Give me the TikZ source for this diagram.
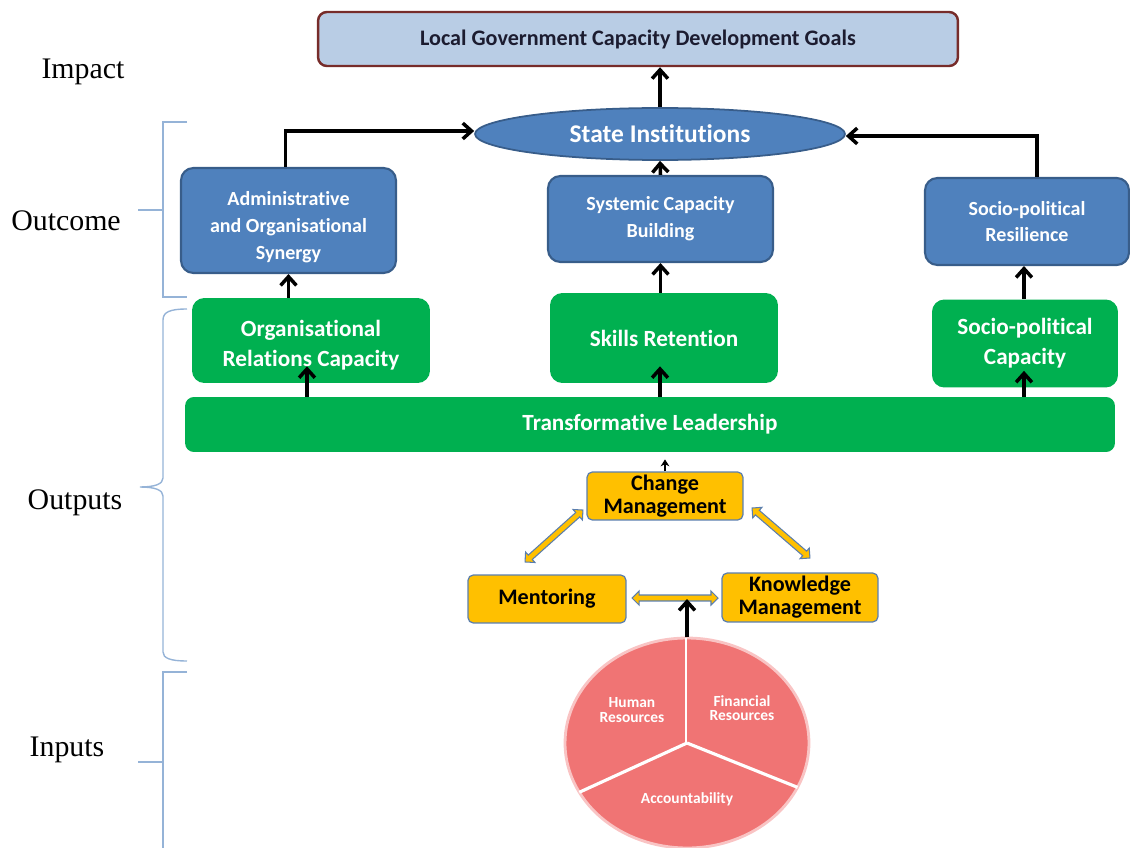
\documentclass[tikz,border=0pt]{standalone}
\usepackage{fontspec}
\setmainfont{Liberation Serif}
\newfontfamily\boxfont[Ligatures=NoCommon]{Carlito}
\usetikzlibrary{shapes.geometric,shapes.arrows,arrows.meta,calc}

\definecolor{boxblue}{HTML}{4F81BD}
\definecolor{boxblueline}{HTML}{385D8A}
\definecolor{goalfill}{HTML}{B9CDE5}
\definecolor{goalline}{HTML}{772C2A}
\definecolor{goaltext}{HTML}{1C1C30}
\definecolor{leafgreen}{HTML}{00B050}
\definecolor{amber}{HTML}{FFC000}
\definecolor{amberline}{HTML}{5A7EAE}
\definecolor{bracecol}{HTML}{95B3D7}
\definecolor{piefill}{HTML}{F07474}
\definecolor{pierim}{HTML}{F9C4C4}

% block double arrow between two named coordinates
\newcommand{\dblarrow}[2]{%
  \path let \p1=($(#2)-(#1)$), \n1={atan2(\y1,\x1)}, \n2={veclen(\x1,\y1)} in
    node[dblarr, minimum height=\n2, rotate=\n1] at ($(#1)!0.5!(#2)$) {};}

\begin{document}
\begin{tikzpicture}[x=0.02cm,y=-0.02cm,
  base/.style={inner sep=0pt, align=center, font=\boxfont\bfseries},
  goalbox/.style={base, rectangle, rounded corners=5pt, fill=goalfill, draw=goalline,
    line width=1.4pt, text=goaltext, font=\boxfont\bfseries\fontsize{12.6}{14}\selectfont},
  stateell/.style={base, ellipse, fill=boxblue, draw=boxblueline, line width=1pt,
    text=white, font=\boxfont\bfseries\fontsize{14.5}{16}\selectfont},
  bluebox/.style={base, rectangle, rounded corners=7pt, fill=boxblue, draw=boxblueline,
    line width=1.2pt, text=white, font=\boxfont\bfseries\fontsize{11.4}{15.3}\selectfont},
  bluetext/.style={base, text=white, font=\boxfont\bfseries\fontsize{11.4}{15.3}\selectfont},
  greenbox/.style={base, rectangle, rounded corners=7pt, fill=leafgreen,
    text=white, font=\boxfont\bfseries\fontsize{13.2}{17}\selectfont},
  greentext/.style={base, text=white, font=\boxfont\bfseries\fontsize{13.2}{17}\selectfont},
  amberbox/.style={base, rectangle, rounded corners=3pt, fill=amber, draw=amberline,
    line width=0.7pt, text=black, font=\boxfont\bfseries\fontsize{12.6}{13.2}\selectfont},
  tier/.style={inner sep=0pt, font=\fontsize{17}{20}\selectfont},
  pietext/.style={inner sep=0pt, align=center, text=white,
    font=\boxfont\bfseries\fontsize{8.8}{8.2}\selectfont},
  arr/.style={line width=2pt, -{Straight Barb[length=5pt,width=9pt]}},
  thinarr/.style={line width=0.8pt, -{Stealth[length=4pt,width=5pt]}},
  dblarr/.style={double arrow, draw=amberline, fill=amber, line width=0.6pt,
    inner sep=1.4pt, double arrow head extend=2.3pt},
  bracket/.style={draw=bracecol, line width=0.8pt}]

\useasboundingbox (0,0) rectangle (1130,848);

% tier labels and their brackets
\node[tier] (impact) at (83,72) {Impact};
\node[tier] (outcome) at (66,221) {Outcome};
\node[tier] (outputs) at (75,503) {Outputs};
\node[tier] (inputs) at (67,750) {Inputs};

\draw[bracket] (187,122) -- (163,122) -- (163,297) -- (187,297);
\draw[bracket] (138,210) -- (163,210);
\draw[bracket] (187,309) .. controls (170,309) and (163,312) .. (163,320) -- (163,478)
  .. controls (163,484) and (155,487) .. (140,487)
  .. controls (155,487) and (163,490) .. (163,496) -- (163,652)
  .. controls (163,658) and (170,661) .. (187,661);
\draw[bracket] (187,672) -- (163,672) -- (163,848);
\draw[bracket] (138,762) -- (163,762);

% impact and outcome level
\node[goalbox, minimum width=12.8cm, minimum height=1.08cm] (goal) at (638,39)
  {Local Government Capacity Development Goals};
\node[stateell, minimum width=7.4cm, minimum height=1.04cm] (state) at (660,134)
  {State Institutions};
\node[bluebox, minimum width=4.3cm, minimum height=2.1cm] (admin) at (288.5,220.5) {};
\node[bluetext] (admintext) at (288.5,227)
  {Administrative\\and Organisational\\Synergy};
\node[bluebox, minimum width=4.5cm, minimum height=1.72cm] (sys) at (660.5,219)
  {Systemic Capacity\\Building};
\node[bluebox, minimum width=4.08cm, minimum height=1.74cm] (resil) at (1027,221.5)
  {Socio-political\\Resilience};

% output level
\node[greenbox, minimum width=4.76cm, minimum height=1.7cm] (orc) at (311,340.5) {};
\node[greentext] (orctext) at (311,345.5) {Organisational\\Relations Capacity};
\node[greenbox, minimum width=4.56cm, minimum height=1.8cm] (skills) at (664,338)
  {Skills Retention};
\node[greenbox, minimum width=3.72cm, minimum height=1.76cm] (socio) at (1025,343.5)
  {Socio-political\\Capacity};
\node[greenbox, rounded corners=5pt, minimum width=18.6cm, minimum height=1.1cm] (bar)
  at (650,424.5) {Transformative Leadership};

\node[amberbox, minimum width=3.12cm, minimum height=0.96cm] (change) at (665,496)
  {Change\\Management};
\node[amberbox, minimum width=3.16cm, minimum height=0.96cm] (ment) at (547,599)
  {Mentoring};
\node[amberbox, minimum width=3.12cm, minimum height=0.98cm] (know) at (800,597.5)
  {Knowledge\\Management};

% connectors
\draw[arr] (state.north) -- (state.north |- goal.south);
\draw[arr] ($(admin.north)+(-3,0)$) |- ($(state.west)+(0,-3)$);
\draw[arr] ($(resil.north)+(10,0)$) |- ($(state.east)+(0,2)$);
\draw[arr] (sys.north) -- (state.south);
\draw[arr] (admin.south |- orc.north) -- (admin.south);
\draw[arr] (sys.south |- skills.north) -- (sys.south);
\draw[arr] ($(resil.south |- socio.north)+(-3,0)$) -- ($(resil.south)+(-3,0)$);
\draw[arr] ($(bar.north -| orc.south)+(-4,0)$) -- ($(orc.south)+(-4,-17)$);
\draw[arr] ($(bar.north -| skills.south)+(-4,0)$) -- ($(skills.south)+(-4,-17)$);
\draw[arr] ($(bar.north -| socio.south)+(-1,0)$) -- ($(socio.south)+(-1,-17)$);
\draw[thinarr, shorten >=4pt] (change.north) -- (change.north |- bar.south);

\coordinate (mc1) at (525,562);
\coordinate (mc2) at (583,510);
\coordinate (ck1) at (752,508);
\coordinate (ck2) at (810,558);
\coordinate (mk1) at (632,598);
\coordinate (mk2) at (718,598);
\dblarrow{mc1}{mc2}
\dblarrow{ck1}{ck2}
\dblarrow{mk1}{mk2}

% resources pie
\coordinate (pc) at (687,743);
\coordinate (pietop) at (687,637);
\coordinate (mkmid) at (687,599);
\begin{scope}[shift={(pc)}]
  \foreach \a/\b in {90/208, 208/335, -25/90}{
    \fill[piefill] (0,0) -- (\a:2.44cm and 2.1cm)
      arc[start angle=\a, end angle=\b, x radius=2.44cm, y radius=2.1cm] -- cycle;
    \draw[pierim, line width=1.6pt] (\a:2.44cm and 2.1cm)
      arc[start angle=\a, end angle=\b, x radius=2.44cm, y radius=2.1cm];
    \draw[white, line width=1.8pt] (0,0) -- (\a:2.44cm and 2.1cm);
  }
\end{scope}
\draw[arr] (pietop) -- (mkmid);

\node[pietext] (hr) at (632,710) {Human\\Resources};
\node[pietext] (fr) at (742,708) {Financial\\Resources};
\node[pietext] (acc) at (687,799) {Accountability};

\end{tikzpicture}
\end{document}
